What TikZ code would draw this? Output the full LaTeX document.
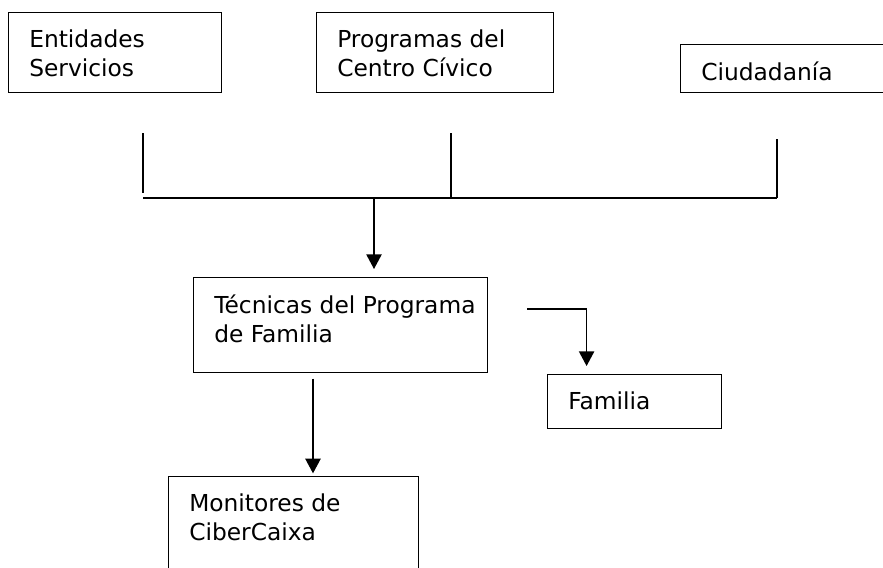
\documentclass[tikz,border=0pt]{standalone}
\usepackage{fontspec}
\setmainfont{DejaVu Sans}
\usepackage{tikz}
\usetikzlibrary{arrows.meta}

\begin{document}
\begin{tikzpicture}[x=0.75pt,y=-0.75pt,font=\fontsize{17.5}{21.75}\selectfont,box/.style n args={2}{draw,line width=0.9pt,minimum width=#1*0.75pt,minimum height=#2*0.75pt,inner sep=0pt,anchor=north west},txt/.style={anchor=north west,align=left,inner sep=0pt,xshift=15.75pt,yshift=-13pt},link/.style={line width=1pt},arr/.style={link,-{Triangle[width=11.5pt,length=11pt]}}]
\path[use as bounding box] (0,0) rectangle (883,568);
\clip (0,0) rectangle (883,568);
\node[box={213}{80}] (ent) at (8,12) {};
\node[txt] (entlbl) at (ent.north west) {Entidades\\Servicios};
\node[box={237}{80}] (prog) at (316,12) {};
\node[txt] (proglbl) at (prog.north west) {Programas del\\Centro Cívico};
\node[box={220}{48}] (ciu) at (680,44) {};
\node[txt] (ciulbl) at (ciu.north west) {Ciudadanía};
\node[box={294}{95}] (tec) at (193,277) {};
\node[txt] (teclbl) at (tec.north west) {Técnicas del Programa\\de Familia};
\node[box={174}{54}] (fam) at (547,374) {};
\node[txt] (famlbl) at (fam.north west) {Familia};
\node[box={250}{130}] (mon) at (168,476) {};
\node[txt] (monlbl) at (mon.north west) {Monitores de\\CiberCaixa};
\coordinate (entdrop) at (143,133);
\coordinate (progdrop) at (451,133);
\coordinate (ciudrop) at (777,139);
\coordinate (busl) at (143,198);
\coordinate (busr) at (777,198);
\coordinate (busout) at (374,198);
\coordinate (famout) at (527,309);
\coordinate (tecout) at (313,372);
\draw[link,shorten >=4pt] (entdrop) -- (entdrop |- busl);
\draw[link] (progdrop) -- (progdrop |- busl);
\draw[link] (ciudrop) -- (busr);
\draw[link] (busl) -- (busr);
\draw[arr,shorten >=6pt] (busout) -- (busout |- tec.north);
\draw[arr,shorten >=6pt] (famout) -| ([xshift=-36pt]fam.north);
\draw[arr,shorten <=5pt,shorten >=2pt] (tecout) -- (tecout |- mon.north);
\end{tikzpicture}
\end{document}
